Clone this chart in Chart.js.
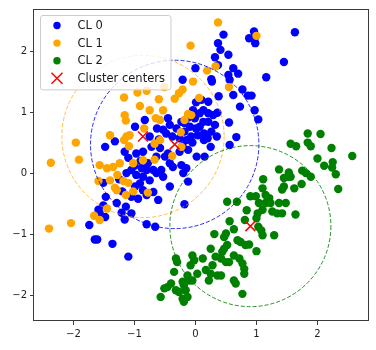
<!DOCTYPE html>
<html>
<head>
<meta charset="utf-8">
<script src="https://cdn.jsdelivr.net/npm/chart.js@4/dist/chart.umd.min.js"></script>
<style>
  html, body { margin: 0; padding: 0; background: #fff; }
  #wrap { width: 376px; height: 350px; }
</style>
</head>
<body>
<div id="wrap"><canvas id="c" width="376" height="350"></canvas></div>
<script>
// Cluster membership: [x, y] pairs per cluster
const cl0 = [
  [1.63,2.31],[0.97,2.21],[0.88,2.21],[0.96,2.32],[0.98,2.13],[0.46,2.27],[0.37,2.13],[0.41,2.02],
  [0.54,1.94],[0.32,1.90],[1.45,1.82],[0.37,1.77],[0.00,1.72],[0.62,1.72],[0.70,1.63],[0.54,1.61],
  [0.56,1.53],[0.26,1.54],[0.27,1.50],[-0.21,1.53],[1.16,1.57],[0.77,1.37],[0.86,1.27],[0.92,1.27],
  [0.62,1.28],[0.38,1.26],[0.73,1.09],[0.97,1.03],[1.03,0.88],[0.55,0.83],[0.10,1.20],[0.21,1.17],
  [0.01,1.16],[0.13,1.03],[0.07,0.98],[0.21,0.98],[0.29,0.95],[0.36,0.99],[-0.04,1.03],[-0.01,0.90],
  [-0.12,0.91],[-0.23,0.84],[0.21,0.84],[0.13,0.84],[0.32,0.79],[0.07,0.76],[0.01,0.73],[-0.09,0.76],
  [-0.18,0.82],[0.26,0.68],[0.14,0.65],[0.04,0.62],[-0.07,0.60],[-0.18,0.68],[-0.31,0.73],[-0.42,0.79],
  [-0.45,0.90],[-0.63,0.73],[-0.53,0.71],[-0.48,0.65],[-0.38,0.60],[-0.26,0.57],[-0.15,0.54],[0.14,0.54],
  [0.56,0.46],[0.25,0.43],[0.67,0.59],[-0.21,0.44],[-0.12,0.38],[-0.26,0.35],[-0.45,0.32],[0.15,0.27],
  [0.02,0.27],[-0.83,0.87],[-0.99,0.76],[-1.48,0.43],[-1.32,0.52],[-1.16,0.35],[-0.97,0.32],[-0.86,0.35],
  [-0.72,0.43],[-0.58,0.41],[-0.64,0.27],[-0.50,0.27],[-0.42,0.16],[-0.37,0.10],[-0.23,0.13],[-0.15,0.08],
  [-0.20,0.00],[-0.12,-0.14],[-0.56,0.05],[-0.64,0.00],[-0.53,-0.06],[-0.78,0.16],[-0.69,0.05],[-0.80,0.05],
  [-0.88,0.08],[-1.05,0.05],[-1.13,0.00],[-0.97,-0.03],[-0.86,-0.06],[-0.75,-0.12],[-0.91,-0.17],[-0.99,-0.22],
  [-0.86,-0.28],[-0.80,-0.36],[-0.69,-0.31],[-0.61,-0.44],[-0.42,-0.22],[-0.94,-0.42],[-1.05,-0.39],[-1.51,-0.16],
  [-1.47,-0.39],[-1.29,-0.49],[-1.14,-0.55],[-1.51,-0.53],[-1.59,-0.60],[-1.57,-0.66],[-1.48,-0.72],[-1.21,-0.65],
  [-1.16,-0.76],[-1.05,-0.66],[-1.74,-0.85],[-1.65,-1.09],[-1.61,-1.09],[-1.36,-1.16],[-1.10,-1.37],[-0.80,-0.84],
  [-0.66,-0.88],[-0.18,-0.51],[-1.10,0.25],[-0.90,0.20],[-1.00,0.12],[-0.75,0.60],[-0.60,0.55],[0.35,0.60],
  [0.20,0.57],[-1.25,-0.10],[-1.20,-0.30],[-0.05,0.50]
];
const cl1 = [
  [0.37,2.47],[1.00,2.25],[-0.08,2.09],[0.33,1.75],[0.19,1.68],[-0.04,1.50],[-0.51,1.41],[0.55,1.41],
  [-0.21,1.37],[-0.27,1.31],[-0.34,1.22],[0.06,1.23],[-0.80,1.35],[-0.95,1.32],[-1.17,1.24],[-0.60,1.21],
  [-0.91,1.10],[-0.75,1.03],[-0.53,1.03],[-1.16,0.95],[-1.14,0.86],[-0.65,0.90],[-0.58,0.87],[-0.12,0.97],
  [-0.07,0.95],[-0.18,0.87],[-0.84,0.73],[-1.08,0.62],[-1.13,0.60],[-1.40,0.62],[-1.96,0.50],[-1.91,0.22],
  [-2.37,0.17],[-1.57,0.13],[-1.45,0.08],[-1.35,0.10],[-1.24,0.16],[-1.02,0.16],[-0.86,0.21],[-0.67,0.22],
  [-1.28,-0.03],[-1.40,-0.12],[-1.18,-0.13],[-1.10,-0.16],[-1.59,-0.13],[-1.32,-0.24],[-1.29,-0.28],[-1.02,-0.30],
  [-0.78,-0.32],[-1.14,-0.36],[-1.45,-0.58],[-1.66,-0.70],[-1.57,-0.77],[-2.04,-0.82],[-2.40,-0.91],[-0.23,0.43],
  [-0.38,0.28],[-0.67,0.48],[-1.09,0.44],[-1.17,0.54],[-0.24,0.67],[-0.58,0.54]
];
const cl2 = [
  [1.84,0.65],[2.05,0.64],[1.56,0.48],[1.65,0.44],[1.84,0.50],[1.89,0.44],[2.23,0.41],[2.57,0.28],
  [2.00,0.24],[2.11,0.12],[2.25,0.18],[2.24,0.09],[2.30,-0.02],[2.34,-0.26],[1.37,0.06],[1.53,0.01],
  [1.52,-0.06],[1.56,-0.06],[1.45,-0.08],[1.75,0.04],[1.81,0.00],[1.89,-0.06],[1.74,-0.18],[1.62,-0.25],
  [1.42,-0.27],[1.45,-0.22],[1.11,-0.10],[1.10,-0.25],[0.99,-0.38],[1.15,-0.36],[1.21,-0.41],[1.04,-0.49],
  [1.15,-0.49],[1.23,-0.49],[1.37,-0.49],[1.48,-0.49],[1.10,-0.60],[1.26,-0.63],[1.34,-0.66],[1.42,-0.66],
  [1.02,-0.66],[1.64,-0.68],[1.29,-1.02],[1.08,-0.94],[1.10,-1.02],[0.90,-0.38],[0.68,-0.47],[0.52,-0.47],
  [0.84,-0.61],[0.81,-0.77],[1.00,-0.74],[1.03,-0.88],[0.56,-0.79],[0.63,-0.92],[0.50,-0.99],[0.47,-1.05],
  [0.31,-1.00],[0.69,-1.10],[0.74,-1.13],[0.82,-1.18],[0.88,-1.17],[0.52,-1.18],[0.47,-1.24],[0.25,-1.24],
  [0.44,-1.29],[0.33,-1.37],[0.42,-1.40],[0.50,-1.46],[0.55,-1.46],[0.63,-1.35],[0.72,-1.40],[0.28,-1.51],
  [0.12,-1.40],[-0.05,-1.35],[-0.02,-1.43],[-0.08,-1.51],[-0.32,-1.40],[-0.30,-1.46],[0.77,-1.48],[0.80,-1.57],
  [0.80,-1.65],[0.17,-1.59],[0.25,-1.65],[0.36,-1.68],[0.42,-1.68],[0.03,-1.65],[-0.13,-1.68],[-0.10,-1.76],
  [-0.35,-1.62],[-0.05,-1.76],[0.22,-1.76],[0.63,-1.76],[0.66,-1.81],[-0.21,-1.78],[-0.19,-1.84],[-0.40,-1.81],
  [-0.46,-1.87],[-0.51,-1.89],[-0.32,-1.92],[-0.27,-1.95],[-0.16,-1.92],[-0.13,-2.03],[-0.21,-2.06],[-0.19,-2.11],
  [-0.57,-2.03],[0.77,-1.98],[1.00,-1.28]
];
// Cluster centers and the radius drawn around each one
const centerX = [-0.34, -0.86, 0.90];
const centerY = [0.47, 0.60, -0.87];
const centerRadius = [1.38, 1.33, 1.32];

const seriesNames = ['CL 0', 'CL 1', 'CL 2'];
const centersName = 'Cluster centers';
const xTicks = [-2, -1, 0, 1, 2];
const yTicks = [-2, -1, 0, 1, 2];
const xRange = [-2.646, 2.82];
const yRange = [-2.425, 2.69];

const colors = ['#0000ff', '#ffa500', '#008000'];
const circleColors = ['rgba(0,0,255,0.85)', 'rgba(255,165,0,0.7)', 'rgba(0,128,0,0.85)'];
const FONT = "'DejaVu Sans', sans-serif";

const toPts = arr => arr.map(p => ({ x: p[0], y: p[1] }));
const fmt = v => (v < 0 ? '\u2212' + Math.abs(v) : String(v));

// dashed circles around each center, in data units
const circlesPlugin = {
  id: 'circles',
  afterDatasetsDraw(chart) {
    const { ctx, chartArea: a, scales: { x, y } } = chart;
    ctx.save();
    ctx.beginPath();
    ctx.rect(a.left, a.top, a.right - a.left, a.bottom - a.top);
    ctx.clip();
    ctx.lineWidth = 1;
    ctx.setLineDash([4, 2]);
    centerX.forEach((cx, i) => {
      const px = x.getPixelForValue(cx);
      const py = y.getPixelForValue(centerY[i]);
      const rx = Math.abs(x.getPixelForValue(cx + centerRadius[i]) - px);
      const ry = Math.abs(y.getPixelForValue(centerY[i] + centerRadius[i]) - py);
      ctx.strokeStyle = circleColors[i];
      ctx.beginPath();
      ctx.ellipse(px, py, rx, ry, 0, 0, Math.PI * 2);
      ctx.stroke();
    });
    ctx.restore();
  }
};

// plot frame and boxed legend in the upper-left corner
const framePlugin = {
  id: 'frameLegend',
  afterDraw(chart) {
    const { ctx, chartArea: a } = chart;
    ctx.save();
    ctx.strokeStyle = '#3a3a3a';
    ctx.lineWidth = 1;
    ctx.strokeRect(Math.round(a.left) - 0.5, Math.round(a.top) + 0.5,
                   Math.round(a.right - a.left) + 1, Math.round(a.bottom - a.top) - 1);

    const names = seriesNames.concat([centersName]);
    ctx.font = '11.5px ' + FONT;
    const textW = Math.max(...names.map(n => ctx.measureText(n).width));
    const bx = a.left + 6.5, by = a.top + 6.5;
    const markerX = bx + 16.5, textX = bx + 37;
    const rowH = 17.6, firstRow = by + 10;
    const bw = textX - bx + textW + 6, bh = rowH * names.length + 4;
    ctx.beginPath();
    ctx.roundRect(bx, by, bw, bh, 2.5);
    ctx.fillStyle = 'rgba(255,255,255,0.8)';
    ctx.fill();
    ctx.strokeStyle = '#cccccc';
    ctx.stroke();

    names.forEach((n, i) => {
      const yy = firstRow + i * rowH;
      if (i < seriesNames.length) {
        ctx.fillStyle = colors[i];
        ctx.beginPath();
        ctx.arc(markerX, yy, 3.7, 0, Math.PI * 2);
        ctx.fill();
      } else {
        ctx.strokeStyle = '#ff0000';
        ctx.lineWidth = 1.5;
        ctx.beginPath();
        ctx.moveTo(markerX - 5.5, yy - 5.5); ctx.lineTo(markerX + 5.5, yy + 5.5);
        ctx.moveTo(markerX + 5.5, yy - 5.5); ctx.lineTo(markerX - 5.5, yy + 5.5);
        ctx.stroke();
      }
      ctx.fillStyle = '#1a1a1a';
      ctx.textBaseline = 'middle';
      ctx.textAlign = 'left';
      ctx.fillText(n, textX, yy + 0.5);
    });
    ctx.restore();
  }
};

const pointStyle = (data, i) => ({
  label: seriesNames[i],
  data: toPts(data),
  backgroundColor: colors[i],
  borderWidth: 0,
  pointRadius: 4.2,
  pointHoverRadius: 4.2,
  order: 3 - i
});

const axis = (range, ticks, side) => ({
  type: 'linear',
  position: side,
  min: range[0],
  max: range[1],
  afterBuildTicks: s => { s.ticks = ticks.map(v => ({ value: v })); },
  afterFit: s => { if (side === 'left') s.width = 34; else s.height = 29; },
  grid: { display: true, drawOnChartArea: false, drawTicks: true, tickLength: 4, color: '#3a3a3a', lineWidth: 1 },
  border: { display: false },
  ticks: {
    callback: v => fmt(v),
    color: '#222',
    font: { family: FONT, size: 10 },
    padding: 3,
    maxRotation: 0
  }
});

new Chart(document.getElementById('c'), {
  type: 'scatter',
  data: {
    datasets: [
      pointStyle(cl0, 0),
      pointStyle(cl1, 1),
      pointStyle(cl2, 2),
      {
        label: centersName,
        data: centerX.map((cx, i) => ({ x: cx, y: centerY[i] })),
        pointStyle: 'crossRot',
        pointRadius: 7,
        pointHoverRadius: 7,
        borderColor: '#ff0000',
        backgroundColor: '#ff0000',
        pointBorderWidth: 1.5,
        order: 0
      }
    ]
  },
  options: {
    responsive: false,
    devicePixelRatio: 1,
    animation: false,
    events: [],
    layout: { padding: { top: 9, right: 8, left: 0, bottom: 0 } },
    plugins: { legend: { display: false }, tooltip: { enabled: false } },
    scales: {
      x: axis(xRange, xTicks, 'bottom'),
      y: axis(yRange, yTicks, 'left')
    }
  },
  plugins: [circlesPlugin, framePlugin]
});
</script>
</body>
</html>
